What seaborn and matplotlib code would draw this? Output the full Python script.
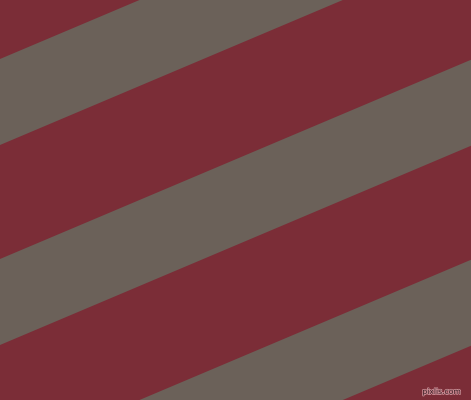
import numpy as np
import matplotlib
matplotlib.use("Agg")
import matplotlib.pyplot as plt
import matplotlib.patheffects as pe
import seaborn as sns

# stripe pattern: gray bands running across a claret background
slope = -0.423                      # drop in y per unit x (image coords, y down)
band_top = [59, 259, 459]           # y where each gray band starts at x=0
band_bottom = [145, 345, 545]       # y where each gray band ends at x=0
x_edges = [0, 471]

red = "#7b2d37"
gray = "#6b6159"

sns.set_style("white")
fig = plt.figure(figsize=(4.71, 4.0), dpi=100)
ax = fig.add_axes([0, 0, 1, 1])
ax.set_facecolor(red)

xs = np.array(x_edges, dtype=float)
for top, bot in zip(band_top, band_bottom):
    ax.fill_between(xs, top + slope * xs, bot + slope * xs,
                    color=gray, linewidth=0)

ax.set_xlim(0, 471)
ax.set_ylim(400, 0)
ax.axis("off")

ax.text(461, 396, "pixlis.com", ha="right", va="bottom", fontsize=5.5,
        color="#3a1c22", family="DejaVu Sans",
        path_effects=[pe.withStroke(linewidth=1.2, foreground="#c98a92")])

fig.savefig("out.png", dpi=100, facecolor=red)
